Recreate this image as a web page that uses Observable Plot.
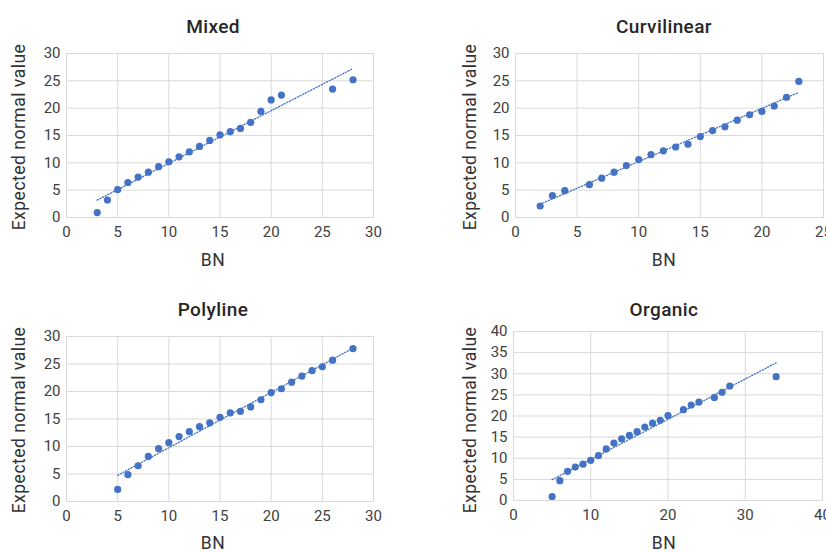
<!DOCTYPE html>
<html><head><meta charset="utf-8">
<script src="https://cdn.jsdelivr.net/npm/d3@7"></script>
<script src="https://cdn.jsdelivr.net/npm/@observablehq/plot@0.6"></script>
<style>
html,body{margin:0;padding:0;background:#fff;width:826px;height:552px;overflow:hidden;position:relative;font-family:Roboto,sans-serif;}
.panel{position:absolute;}
.lbl{position:absolute;white-space:nowrap;color:#262626;}
.title{font-size:19px;font-weight:500;transform:translate(-50%,-50%);letter-spacing:0.4px;}
.ax{font-size:17.5px;color:#333;transform:translate(-50%,-50%);letter-spacing:0.5px;}
.ay{font-size:17.5px;color:#333;transform:translate(-50%,-50%) rotate(-90deg);letter-spacing:0.5px;}
</style></head><body>
<script>
// ---- data ----
const titles = ["Mixed", "Curvilinear", "Polyline", "Organic"];
const xLabel = "BN";
const yLabel = "Expected normal value";

const mixedX = [3,4,5,6,7,8,9,10,11,12,13,14,15,16,17,18,19,20,21,26,28];
const mixedY = [0.9,3.2,5.1,6.4,7.4,8.3,9.3,10.2,11.1,12.0,13.0,14.1,15.1,15.7,16.3,17.4,19.4,21.5,22.4,23.5,25.2];

const curvX = [2,3,4,6,7,8,9,10,11,12,13,14,15,16,17,18,19,20,21,22,23];
const curvY = [2.1,4.0,4.9,6.0,7.2,8.3,9.5,10.6,11.5,12.2,12.9,13.4,14.8,15.9,16.6,17.8,18.8,19.4,20.4,22.0,24.9];

const polyX = [5,6,7,8,9,10,11,12,13,14,15,16,17,18,19,20,21,22,23,24,25,26,28];
const polyY = [2.2,4.9,6.5,8.2,9.6,10.7,11.8,12.7,13.6,14.3,15.3,16.1,16.4,17.2,18.5,19.8,20.5,21.7,22.8,23.8,24.5,25.7,27.8];

const orgX = [5,6,7,8,9,10,11,12,13,14,15,16,17,18,19,20,22,23,24,26,27,28,34];
const orgY = [0.95,4.7,6.9,7.9,8.6,9.5,10.6,12.2,13.6,14.6,15.4,16.3,17.4,18.3,19.0,20.1,21.5,22.6,23.3,24.4,25.6,27.1,29.3];

const ticksX30 = [0,5,10,15,20,25,30];
const ticksX25 = [0,5,10,15,20,25];
const ticksX40 = [0,10,20,30,40];
const ticksY30 = [0,5,10,15,20,25,30];
const ticksY40 = [0,5,10,15,20,25,30,35,40];

// ---- layout ----
const panels = [
  {xs: mixedX, ys: mixedY, xt: ticksX30, yt: ticksY30, left:0, top:0, m:[53,40,59,66], title:[213,26], bx:[213,260], ay:[19,137]},
  {xs: curvX, ys: curvY, xt: ticksX25, yt: ticksY30, left:413, top:0, m:[53,3,59,102], title:[664,26], bx:[664,260], ay:[470,137]},
  {xs: polyX, ys: polyY, xt: ticksX30, yt: ticksY30, left:0, top:276, m:[60,40,51,66], title:[213,309], bx:[213,543], ay:[19,420]},
  {xs: orgX, ys: orgY, xt: ticksX40, yt: ticksY40, left:413, top:276, m:[55,4,52,100], title:[664,309], bx:[664,543], ay:[470,420]}
];

const blue = "#4472C4";
const gridC = "#d9d9d9";

panels.forEach((p, i) => {
  const data = p.xs.map((x, k) => ({x, y: p.ys[k]}));
  const xd = [p.xt[0], p.xt[p.xt.length-1]];
  const yd = [p.yt[0], p.yt[p.yt.length-1]];
  const chart = Plot.plot({
    width: 413, height: 276,
    marginTop: p.m[0], marginRight: p.m[1], marginBottom: p.m[2], marginLeft: p.m[3],
    style: {fontSize: "15px", fontFamily: "Roboto, sans-serif", color: "#404040", background: "transparent", overflow: "visible"},
    x: {domain: xd},
    y: {domain: yd},
    marks: [
      Plot.gridX(p.xt, {stroke: gridC, strokeOpacity: 1}),
      Plot.gridY(p.yt, {stroke: gridC, strokeOpacity: 1}),
      Plot.frame({stroke: gridC}),
      Plot.axisX({ticks: p.xt, tickSize: 0, tickPadding: 9, label: null}),
      Plot.axisY({ticks: p.yt, tickSize: 0, tickPadding: 6, label: null}),
      Plot.linearRegressionY(data, {x: "x", y: "y", ci: 0, stroke: blue, strokeWidth: 1.3, strokeDasharray: "1.2,1.8"}),
      Plot.dot(data, {x: "x", y: "y", r: 3.6, fill: blue})
    ]
  });
  const div = document.createElement("div");
  div.className = "panel";
  div.style.left = p.left + "px";
  div.style.top = p.top + "px";
  div.appendChild(chart);
  document.body.appendChild(div);

  const mk = (cls, txt, xy) => {
    const d = document.createElement("div");
    d.className = "lbl " + cls;
    d.textContent = txt;
    d.style.left = xy[0] + "px";
    d.style.top = xy[1] + "px";
    document.body.appendChild(d);
  };
  mk("title", titles[i], p.title);
  mk("ax", xLabel, p.bx);
  mk("ay", yLabel, p.ay);
});
</script>
</body></html>
